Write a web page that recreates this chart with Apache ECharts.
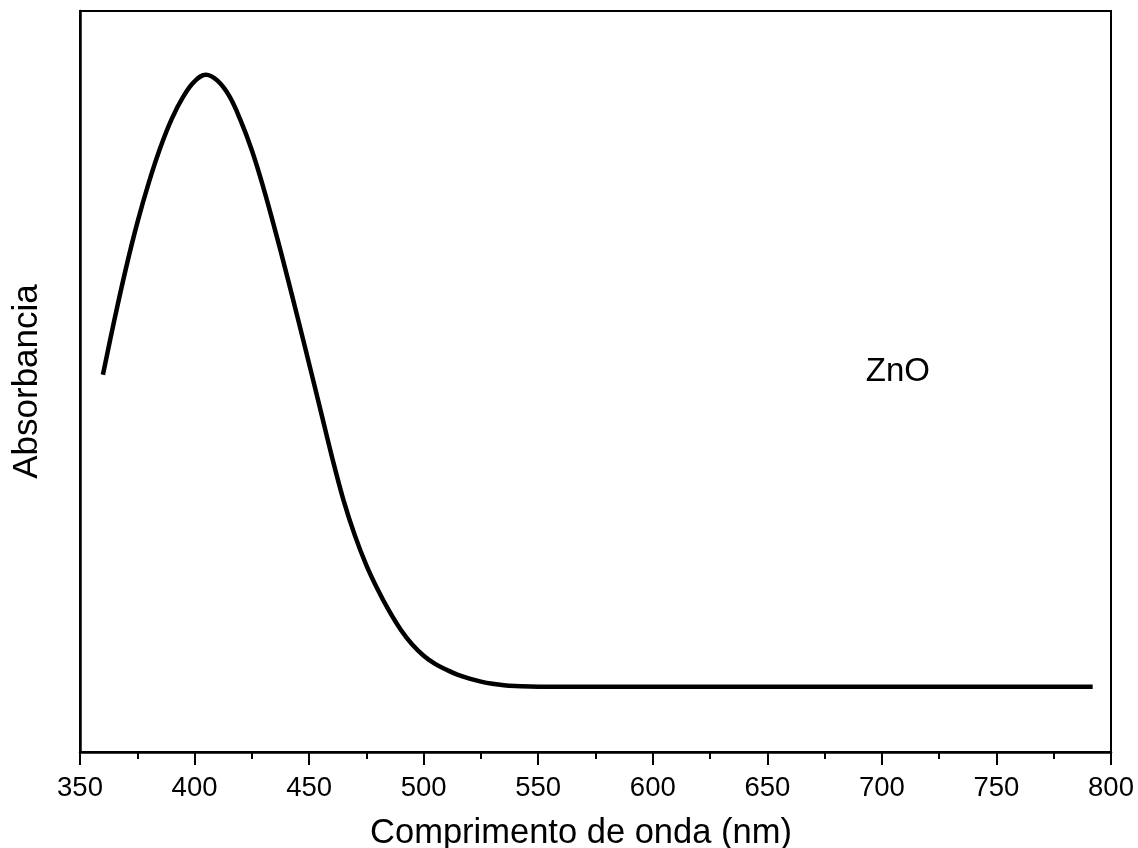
<!DOCTYPE html>
<html>
<head>
<meta charset="utf-8">
<script src="https://cdn.jsdelivr.net/npm/echarts@6/dist/echarts.min.js"></script>
<style>html,body{margin:0;padding:0;background:#fff}#c{width:1138px;height:848px}</style>
</head>
<body>
<div id="c"></div>
<script>
// Data (absorbance in arbitrary units)
var wavelength = [360,365,370,375,380,385,390,395,400,405,410,415,420,425,430,435,440,445,450,455,460,465,470,475,480,485,490,495,500,505,510,515,520,525,530,535,540,550,575,600,650,700,750,792];
var absorbance = [0.509,0.583,0.652,0.714,0.768,0.815,0.854,0.884,0.905,0.914,0.906,0.886,0.853,0.812,0.762,0.706,0.647,0.586,0.524,0.461,0.398,0.340,0.292,0.252,0.219,0.190,0.165,0.145,0.130,0.119,0.111,0.104,0.099,0.095,0.092,0.090,0.089,0.088,0.088,0.088,0.088,0.088,0.088,0.088];
var xTicks = [350,400,450,500,550,600,650,700,750,800];
var sampleLabel = 'ZnO';
var sampleLabelAt = [707, 0.513];
var xTitle = 'Comprimento de onda (nm)';
var yTitle = 'Absorbancia';

var points = wavelength.map(function (w, i) { return [w, absorbance[i]]; });
var font = 'Liberation Sans, Arial, Helvetica, sans-serif';

var chart = echarts.init(document.getElementById('c'), null, {renderer: 'canvas'});
chart.setOption({
  animation: false,
  backgroundColor: '#fff',
  grid: {left: 80, right: 27, top: 11, bottom: 96, show: true, borderColor: '#000', borderWidth: 2,
         containLabel: false, outerBoundsMode: 'none'},
  xAxis: {
    type: 'value',
    min: xTicks[0], max: xTicks[xTicks.length - 1], interval: 50,
    name: xTitle, nameLocation: 'middle', nameGap: 64,
    nameTextStyle: {fontFamily: font, fontSize: 34.5, color: '#000', padding: [0, 29, 0, 0]},
    axisLine: {show: true, onZero: false, lineStyle: {color: '#000', width: 2.5}},
    axisTick: {show: true, inside: false, length: 13, lineStyle: {color: '#000', width: 2}},
    minorTick: {show: true, splitNumber: 2, length: 7, lineStyle: {color: '#000', width: 2}},
    axisLabel: {fontFamily: font, fontSize: 27.5, color: '#000', margin: 22},
    splitLine: {show: false}
  },
  yAxis: {
    type: 'value', min: 0, max: 1,
    name: yTitle, nameLocation: 'middle', nameGap: 35, nameRotate: 90,
    nameTextStyle: {fontFamily: font, fontSize: 35, color: '#000'},
    axisLine: {show: true, onZero: false, lineStyle: {color: '#000', width: 2.5}},
    axisTick: {show: false},
    axisLabel: {show: false},
    splitLine: {show: false}
  },
  series: [{
    type: 'line',
    data: points,
    smooth: 0.4,
    showSymbol: false,
    symbol: 'none',
    lineStyle: {color: '#000', width: 4.5},
    markPoint: {
      symbol: 'circle', symbolSize: 0, silent: true,
      data: [{coord: sampleLabelAt, value: sampleLabel}],
      label: {show: true, position: 'inside', formatter: sampleLabel, fontFamily: font, fontSize: 33, color: '#000'}
    }
  }]
});
</script>
</body>
</html>
